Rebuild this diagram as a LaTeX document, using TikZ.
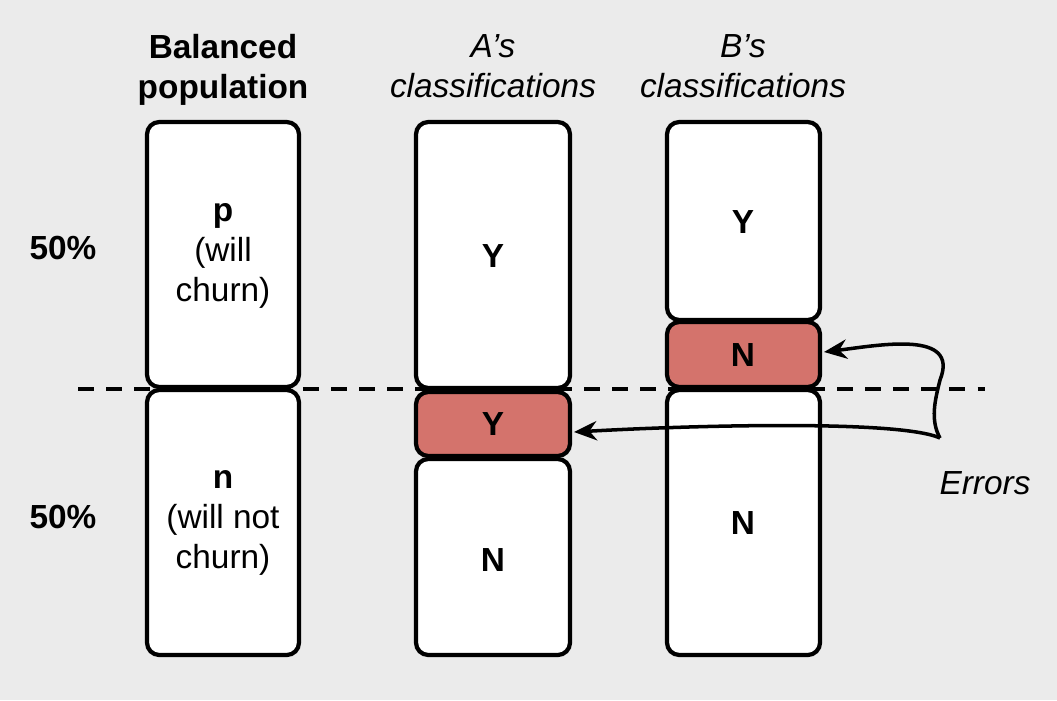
\documentclass[tikz,border=0pt]{standalone}
\usepackage{fontspec}
\setmainfont{Liberation Sans}
\usetikzlibrary{arrows.meta}
\definecolor{bgcol}{HTML}{EBEBEB}
\definecolor{errcol}{HTML}{D4736C}
\tikzset{
  seg/.style={draw=black, line width=2.4pt, rounded corners=7pt, fill=white},
  err/.style={seg, fill=errcol},
  lbl/.style={font=\fontsize{19}{23}\selectfont, align=center},
  blbl/.style={lbl, font=\fontsize{19}{23}\selectfont\bfseries},
  ilbl/.style={lbl, font=\fontsize{19}{23}\selectfont\itshape},
  arr/.style={line width=2pt, -{Stealth[length=13pt,width=11pt]}}
}
\begin{document}
\begin{tikzpicture}[x=0.02cm, y=-0.02cm]

    % Background
    \fill[bgcol] (0,0) rectangle (1057,700);
    \useasboundingbox (0,0) rectangle (1057,700);

    % Headers
    \node[blbl] (hpop) at (223,70) {Balanced\\population};
    \node[ilbl] (ha)   at (493,66) {A's\\classifications};
    \node[ilbl] (hb)   at (743,66) {B's\\classifications};
    \node[blbl] (pt)   at (63,248) {50\%};
    \node[blbl] (pb)   at (63,517) {50\%};

    % Population
    \draw[seg] (147,122) rectangle (299,387);
    \draw[seg] (147,390) rectangle (299,655);
    \node[lbl] (pos) at (223,256) {\textbf{p}\\(will\\churn)};
    \node[lbl] (neg) at (223,523) {\textbf{n}\\(will not\\churn)};

    % A's classifications
    \draw[seg] (416,122) rectangle (570,388);
    \draw[err] (416,392) rectangle (570,456);
    \draw[seg] (416,459) rectangle (570,655);
    \node[blbl] (ay)  at (493,256) {Y};
    \node[blbl] (aey) at (493,424) {Y};
    \node[blbl] (an)  at (493,560) {N};
    \coordinate (atip) at (574,432);

    % B's classifications
    \draw[seg] (667,122) rectangle (820,320);
    \draw[err] (667,322) rectangle (820,387);
    \draw[seg] (667,390) rectangle (820,655);
    \node[blbl] (by)  at (743,222) {Y};
    \node[blbl] (ben) at (743,355) {N};
    \node[blbl] (bn)  at (743,523) {N};
    \coordinate (btip) at (824,352);

    % Threshold
    \draw[line width=2pt, dash pattern=on 9pt off 7pt] (78,389) -- (985,389);

    % Errors
    \node[ilbl] (errs) at (985,483) {Errors};
    \coordinate (src) at (940,438);
    \draw[arr] (src) .. controls (930,420) and (935,400) .. (940,380)
               .. controls (960,330) and (880,345) .. (btip);
    \draw[arr] (src) .. controls (900,420) and (700,425) .. (atip);

\end{tikzpicture}
\end{document}
